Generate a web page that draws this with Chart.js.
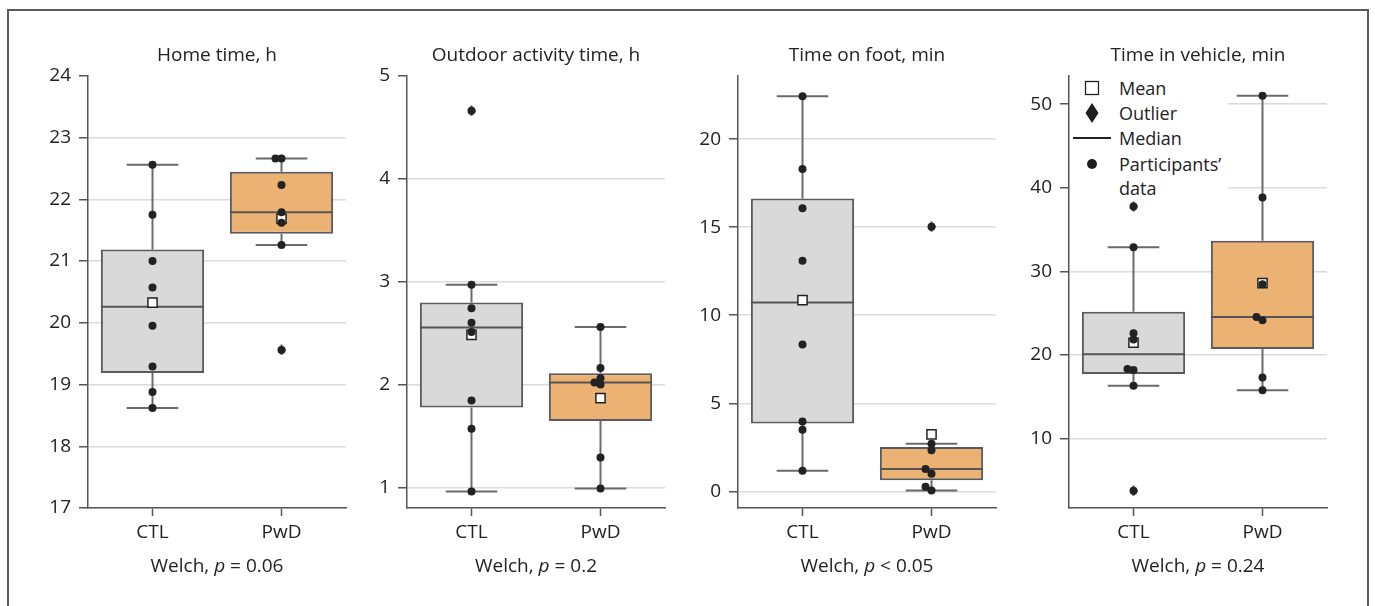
<!DOCTYPE html>
<html><head><meta charset="utf-8">
<script src="https://cdn.jsdelivr.net/npm/chart.js@4.4.0/dist/chart.umd.min.js"></script>
<style>
html,body{margin:0;padding:0;background:#fff;}
body{width:1375px;height:606px;position:relative;overflow:hidden;font-family:'Open Sans',sans-serif;color:#222;}
#frame{position:absolute;left:7px;top:9px;width:1358px;height:640px;border:2px solid #5a5a5a;border-bottom:none;}
canvas.panel{position:absolute;top:0;}
.welch{position:absolute;top:552px;width:258px;text-align:center;font-size:19px;line-height:26px;color:#222;}
#legend{position:absolute;left:1070px;top:76px;width:158px;height:124px;background:#fff;}
#legend svg{position:absolute;left:0;top:0;}
#legend .lt{position:absolute;left:49px;font-size:18px;line-height:24px;color:#222;white-space:nowrap;}
</style>
</head><body>
<div id="frame"></div>
<script>
// ---------------- DATA ----------------
const categories = ['CTL', 'PwD'];
const panelTitles = ['Home time, h', 'Outdoor activity time, h', 'Time on foot, min', 'Time in vehicle, min'];
const welchOps = ['=', '=', '<', '='];
const welchP = ['0.06', '0.2', '0.05', '0.24'];

const homeCTL = [22.56, 21.75, 21.0, 20.57, 19.95, 19.29, 18.88, 18.62];
const homePwD = [22.66, 22.66, 22.23, 21.79, 21.62, 21.26, 19.56];
const outdoorCTL = [4.66, 2.97, 2.74, 2.60, 2.51, 1.845, 1.57, 0.96];
const outdoorPwD = [2.56, 2.16, 2.06, 2.02, 2.00, 1.29, 0.99];
const footCTL = [22.44, 18.30, 16.07, 13.10, 8.34, 3.97, 3.50, 1.17];
const footPwD = [15.03, 2.70, 2.33, 1.27, 1.00, 0.25, 0.04];
const vehicleCTL = [37.76, 32.90, 22.61, 21.86, 18.34, 18.20, 16.31, 3.75];
const vehiclePwD = [51.0, 38.84, 28.47, 24.56, 24.16, 17.30, 15.80];

const yMin = [17, 0.8, -0.95, 1.7];
const yMax = [24, 5, 23.6, 53.4];
const yStep = [1, 1, 5, 10];

const legendLabels = ['Mean', 'Outlier', 'Median', 'Participants\u2019', 'data'];

// ---------------- HELPERS ----------------
const FONT = "'Open Sans', sans-serif";
const panelData = [[homeCTL, homePwD], [outdoorCTL, outdoorPwD], [footCTL, footPwD], [vehicleCTL, vehiclePwD]];
const boxColors = ['#d9d9d9', '#ecb273'];
const canvasLeft = [28, 347, 678, 1009];

function quantile(s, q) {
  const pos = (s.length - 1) * q, lo = Math.floor(pos), hi = Math.ceil(pos);
  return s[lo] + (s[hi] - s[lo]) * (pos - lo);
}
function stats(vals) {
  const s = [...vals].sort((a, b) => a - b);
  const q1 = quantile(s, .25), med = quantile(s, .5), q3 = quantile(s, .75);
  const iqr = q3 - q1, lo = q1 - 1.5 * iqr, hi = q3 + 1.5 * iqr;
  const inl = s.filter(v => v >= lo && v <= hi);
  return { q1, med, q3, wlo: Math.min(...inl), whi: Math.max(...inl),
    mean: s.reduce((a, b) => a + b, 0) / s.length, outliers: s.filter(v => v < lo || v > hi) };
}
// simple beeswarm layout in approximate pixel space
function swarm(vals, center, yRange) {
  const pxY = 432 / yRange, pxX = 129, d = 6, step = 6;
  const placed = [], out = [];
  [...vals].sort((a, b) => a - b).forEach(v => {
    const cands = [0, -step, step, -2 * step, 2 * step];
    let off = 0;
    for (const c of cands) {
      if (placed.every(p => Math.hypot(p.off - c, (p.v - v) * pxY) >= d)) { off = c; break; }
    }
    placed.push({ v, off });
    out.push({ x: center + off / pxX, y: v });
  });
  return out;
}
function diamondCanvas(w, h) {
  const c = document.createElement('canvas');
  c.width = w; c.height = h;
  const g = c.getContext('2d');
  g.fillStyle = '#1e1e1e';
  g.beginPath(); g.moveTo(w / 2, 0); g.lineTo(w, h / 2); g.lineTo(w / 2, h); g.lineTo(0, h / 2); g.closePath(); g.fill();
  return c;
}
const outlierStyle = diamondCanvas(8, 11);

// ---------------- CHARTS ----------------
panelData.forEach((groups, p) => {
  const cv = document.createElement('canvas');
  cv.className = 'panel';
  cv.width = 378; cv.height = 606;
  cv.style.left = canvasLeft[p] + 'px';
  cv.style.width = '378px'; cv.style.height = '606px';
  document.body.appendChild(cv);

  const st = groups.map(stats);
  const range = yMax[p] - yMin[p];
  const dots = [], means = [], outl = [], medians = [], whiskers = [];
  groups.forEach((g, i) => {
    dots.push(...swarm(g, i, range));
    means.push({ x: i, y: st[i].mean });
    st[i].outliers.forEach(v => outl.push({ x: i, y: v }));
    medians.push({ x: i - 0.4, y: st[i].med }, { x: i + 0.4, y: st[i].med }, { x: i, y: null });
    whiskers.push(
      { x: i, y: st[i].q3 }, { x: i, y: st[i].whi }, { x: i, y: null },
      { x: i - 0.2, y: st[i].whi }, { x: i + 0.2, y: st[i].whi }, { x: i, y: null },
      { x: i, y: st[i].q1 }, { x: i, y: st[i].wlo }, { x: i, y: null },
      { x: i - 0.2, y: st[i].wlo }, { x: i + 0.2, y: st[i].wlo }, { x: i, y: null });
  });

  new Chart(cv, {
    type: 'bar',
    data: {
      labels: categories,
      datasets: [
        { type: 'line', label: 'Participants', data: dots, xAxisID: 'x2', showLine: false,
          pointRadius: 4, pointBackgroundColor: '#222', pointBorderWidth: 0, borderColor: '#222' },
        { type: 'line', label: 'Outlier', data: outl, xAxisID: 'x2', showLine: false,
          pointStyle: outlierStyle, pointRadius: 5 },
        { type: 'line', label: 'Mean', data: means, xAxisID: 'x2', showLine: false,
          pointStyle: 'rect', pointRadius: 6.5, pointBackgroundColor: '#fff', pointBorderColor: '#222', pointBorderWidth: 1.5 },
        { type: 'line', label: 'Median', data: medians, xAxisID: 'x2', spanGaps: false,
          borderColor: '#555', borderWidth: 2, pointRadius: 0 },
        { type: 'bar', label: 'Box', data: st.map(s => [s.q1, s.q3]), xAxisID: 'x', grouped: false,
          backgroundColor: boxColors, borderColor: '#5a5a5a', borderWidth: 2, borderSkipped: false,
          categoryPercentage: 0.8, barPercentage: 1.0 },
        { type: 'line', label: 'Whiskers', data: whiskers, xAxisID: 'x2', spanGaps: false,
          borderColor: '#6a6a6a', borderWidth: 2, pointRadius: 0 }
      ]
    },
    options: {
      responsive: false, animation: false, events: [],
      layout: { padding: { top: 44, bottom: 58, left: 0, right: 60 } },
      plugins: {
        legend: { display: false }, tooltip: { enabled: false },
        title: { display: true, fullSize: false, text: panelTitles[p], color: '#222',
          font: { family: FONT, size: 19, weight: 'normal', lineHeight: 1.2 }, padding: { top: 0, bottom: 9 } }
      },
      scales: {
        x: {
          type: 'category', offset: true,
          grid: { display: true, drawOnChartArea: false, drawTicks: true, offset: false, tickLength: 8, tickColor: '#555', tickWidth: 1.5 },
          border: { display: true, color: '#555', width: 1.5 },
          ticks: { color: '#222', padding: 5, font: { family: FONT, size: 19 } },
          afterFit: s => { s.height = 40; }
        },
        x2: { type: 'linear', min: -0.5, max: 1.5, offset: false, grid: { offset: false }, display: false },
        y: {
          type: 'linear', min: yMin[p], max: yMax[p],
          grid: { color: c => (c.tick && c.tick.value === yMax[p]) ? 'rgba(0,0,0,0)' : '#dcdcdc', lineWidth: 1.5,
            tickColor: '#555', tickLength: 9, tickWidth: 1.5 },
          border: { display: true, color: '#555', width: 1.5 },
          ticks: { stepSize: yStep[p], includeBounds: false, color: '#222', padding: 8, font: { family: FONT, size: 19 } },
          afterFit: s => { s.width = 60; }
        }
      }
    }
  });

  const w = document.createElement('div');
  w.className = 'welch';
  w.style.left = (canvasLeft[p] + 60) + 'px';
  w.innerHTML = 'Welch, <i>p</i> ' + welchOps[p] + ' ' + welchP[p];
  document.body.appendChild(w);
});

// ---------------- LEGEND (panel 4) ----------------
(function () {
  const lg = document.createElement('div');
  lg.id = 'legend';
  lg.innerHTML =
    '<svg width="158" height="124" xmlns="http://www.w3.org/2000/svg">' +
    '<rect x="15.5" y="5.5" width="13" height="13" fill="#fff" stroke="#222" stroke-width="1.3"/>' +
    '<polygon points="22,27 28.5,37 22,47 15.5,37" fill="#1e1e1e"/>' +
    '<line x1="3" y1="62" x2="41" y2="62" stroke="#222" stroke-width="2"/>' +
    '<circle cx="22" cy="88" r="5" fill="#1e1e1e"/>' +
    '</svg>';
  const tops = [0, 25, 50, 76, 100];
  legendLabels.forEach((t, i) => {
    const d = document.createElement('div');
    d.className = 'lt';
    d.style.top = tops[i] + 'px';
    d.textContent = t;
    lg.appendChild(d);
  });
  document.body.appendChild(lg);
})();
</script>
</body></html>
